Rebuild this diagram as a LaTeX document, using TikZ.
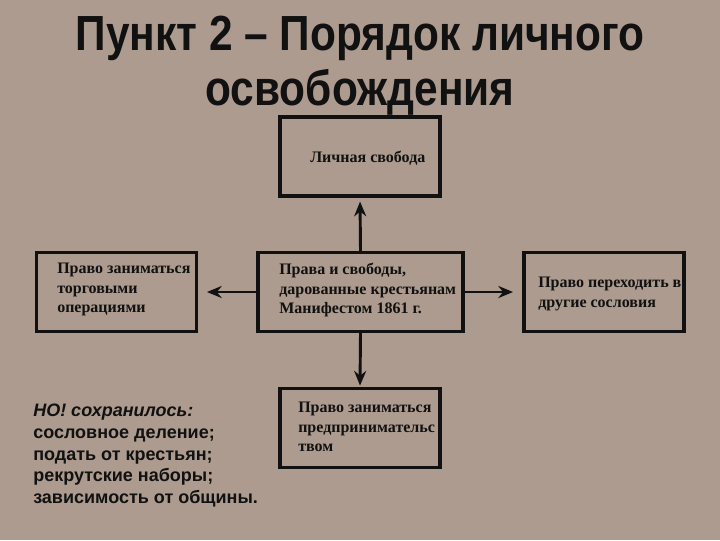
\documentclass[tikz,border=0pt]{standalone}
\usepackage{fontspec}
\setmainfont{Liberation Serif}
\newfontfamily\titlefont[FakeStretch=0.86]{Liberation Sans}
\newfontfamily\sansfont{Liberation Sans}
\usetikzlibrary{arrows.meta}
\definecolor{wood}{HTML}{AC9B8E}
\definecolor{ink}{HTML}{111111}
\tikzset{
  box/.style={draw=ink, line width=2.4pt, minimum width=#1, minimum height=79*0.75pt, inner sep=0pt},
  box/.default={160*0.75pt},
  boxtext/.style={font=\bfseries\fontsize{12}{14.6}\selectfont, align=left, anchor=north west, inner sep=0pt, text=ink},
  conn/.style={draw=ink, line width=2.2pt, -{Stealth[length=11pt,width=9pt]}, shorten >=3pt},
}
\begin{document}
\begin{tikzpicture}[x=0.75pt,y=-0.75pt]
\fill[wood] (0,0) rectangle (720,540);
\useasboundingbox (0,0) rectangle (720,540);
% title
\node[font=\titlefont\bfseries\fontsize{37}{41}\selectfont, align=center, text=ink] (title) at (360,66) {Пункт 2 – Порядок личного\\освобождения};
% boxes
\node[box] (top) at (360,156.5) {};
\node[box] (left) at (116.5,292) {};
\node[box={205*0.75pt}] (center) at (360.5,292) {};
\node[box] (right) at (604,292) {};
\node[box] (bottom) at (360,428) {};
% texts
\node[boxtext, anchor=west] (ttop) at (310,158) {Личная свобода};
\node[boxtext] (tleft) at (57,263) {Право заниматься\\торговыми\\операциями};
\node[boxtext] (tcenter) at (279,263) {Права и свободы,\\дарованные крестьянам\\Манифестом 1861 г.};
\node[boxtext] (tright) at (538,277) {Право переходить в\\другие сословия};
\node[boxtext] (tbottom) at (298,402) {Право заниматься\\предпринимательс\\твом};
% connectors
\coordinate (la) at (207,292);
\coordinate (ra) at (513,292);
\draw[conn] (center.north) -- (top.south);
\draw[conn, shorten >=0pt] (center.west) -- (la);
\draw[conn, shorten >=0pt] (center.east) -- (ra);
\draw[conn, shorten >=1pt] (center.south) -- (bottom.north);
% note
\node[font=\sansfont\bfseries\fontsize{13.5}{16.2}\selectfont, align=left, anchor=north west, inner sep=0pt, text=ink] (note) at (33,404) {\textit{НО! сохранилось:}\\сословное деление;\\подать от крестьян;\\рекрутские наборы;\\зависимость от общины.};
\end{tikzpicture}
\end{document}
